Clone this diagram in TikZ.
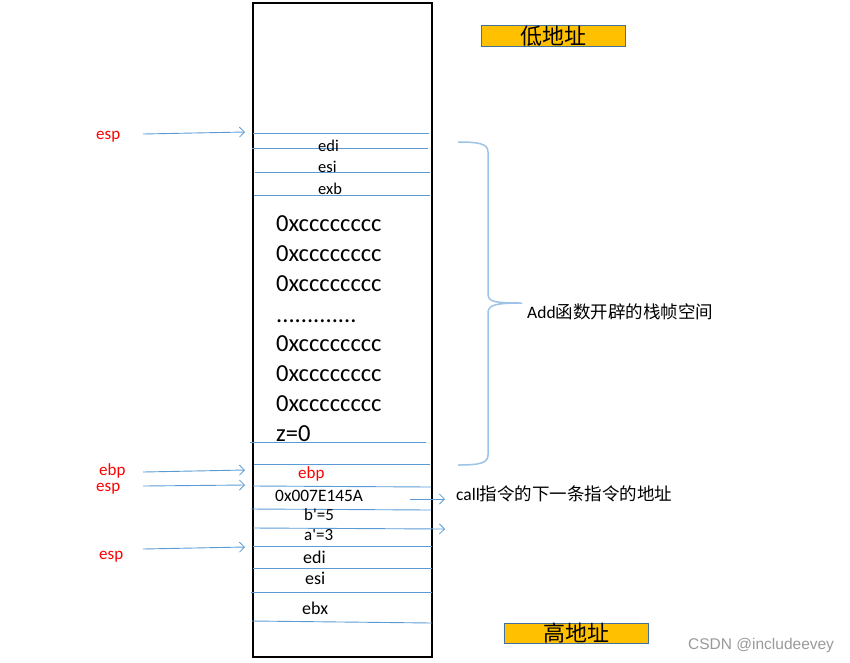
\documentclass[tikz,border=0pt]{standalone}
\usepackage{fontspec}
\setmainfont{Carlito}
\newfontfamily\plainfont{Carlito}
\newfontfamily\cjk{Noto Sans CJK SC}
\newfontfamily\wmfont{Liberation Sans}
\usetikzlibrary{arrows.meta}
\definecolor{lblue}{HTML}{5B9BD5}
\definecolor{bracecol}{HTML}{9DC3E6}
\definecolor{orng}{HTML}{FFC000}
\definecolor{bordblue}{HTML}{41719C}
\tikzset{
  sep/.style={draw=lblue, line width=0.9pt},
  ptr/.style={draw=lblue, line width=0.9pt, -{Straight Barb[length=5pt,width=10pt,line width=0.8pt]}},
  lbl/.style={anchor=base west, inner sep=0pt, font=\fontsize{16.5}{18}\selectfont},
  big/.style={anchor=base west, inner sep=0pt, font=\fontsize{24.5}{28}\selectfont},
  mid/.style={anchor=base west, inner sep=0pt, font=\fontsize{18}{20}\selectfont},
  reg/.style={anchor=base west, inner sep=0pt, text=red, font=\fontsize{17}{19}\selectfont},
  addr/.style={draw=bordblue, fill=orng, line width=0.8pt, minimum width=144pt, minimum height=20pt, inner sep=0pt, font=\cjk\fontsize{22}{24}\selectfont},
}
\begin{document}
\begin{tikzpicture}[x=1pt,y=-1pt]
\useasboundingbox (0,0) rectangle (850,662);
% stack box
\draw[line width=1.2pt] (253,3) rectangle (432,657);
% separators
\draw[sep] (253,133) -- (429,133);
\draw[sep] (252,148) -- (428,148);
\draw[sep] (255,172) -- (430,172);
\draw[sep] (254,195) -- (430,195);
\draw[sep] (250,442) -- (426,442);
\draw[sep] (254,464) -- (430,464);
\draw[sep] (253,486) -- (431,487);
\draw[sep] (251,509) -- (431,510);
\draw[sep] (253,546) -- (432,546);
\draw[sep] (253,568) -- (432,568);
\draw[sep] (251,592) -- (432,592);
\draw[sep] (252,621) -- (432,623);
% text in box
\node[lbl] (edi1) at (318,151) {edi};
\node[lbl] (esi1) at (318,172) {esi};
\node[lbl] (exb1) at (318,194) {exb};
\node[big] (c1) at (276,231) {0xcccccccc};
\node[big] (c2) at (276,261) {0xcccccccc};
\node[big] (c3) at (276,291) {0xcccccccc};
\node[big] (dots) at (276,322) {.............};
\node[big] (c4) at (276,351) {0xcccccccc};
\node[big] (c5) at (276,381) {0xcccccccc};
\node[big] (c6) at (276,411) {0xcccccccc};
\node[big] (z) at (276,441) {z=0};
\node[reg] (ebpin) at (298,478) {ebp};
\node[anchor=base west, inner sep=0pt, font=\fontsize{17.4}{19}\selectfont] (ret) at (275,501) {0x007E145A};
\node[anchor=base west, inner sep=0pt, font=\plainfont\fontsize{17}{19}\selectfont] (b) at (304,520) {b'=5};
\node[anchor=base west, inner sep=0pt, font=\plainfont\fontsize{17}{19}\selectfont] (a) at (304,540) {a'=3};
\node[mid] (edi2) at (303,563) {edi};
\node[mid] (esi2) at (305,584) {esi};
\node[mid] (ebx2) at (302,614) {ebx};
% a'=3 separator with arrow
\coordinate (aS) at (253,528);
\coordinate (aE) at (445,529);
\draw[ptr] (aS) -- (aE);
% return-address arrow
\coordinate (rS) at (410,499);
\node[anchor=base west, inner sep=0pt, font=\fontsize{17.5}{19}\selectfont] (call) at (456,500) {call{\cjk 指令的下一条指令的地址}};
\coordinate (rE) at (445,499);
\draw[ptr] (rS) -- (rE);
% left pointers
\node[reg] (esp1) at (96,139) {esp};
\node[reg] (ebp2) at (99,475) {ebp};
\node[reg] (esp2) at (96,491) {esp};
\node[reg] (esp3) at (99,559) {esp};
\coordinate (p1s) at (143,134); \coordinate (p1e) at (245,132);
\coordinate (p2s) at (143,472); \coordinate (p2e) at (245,470);
\coordinate (p3s) at (143,486); \coordinate (p3e) at (245,485);
\coordinate (p4s) at (143,549); \coordinate (p4e) at (245,547);
\draw[ptr] (p1s) -- (p1e);
\draw[ptr] (p2s) -- (p2e);
\draw[ptr] (p3s) -- (p3e);
\draw[ptr] (p4s) -- (p4e);
% brace
\draw[draw=bracecol, line width=1.5pt] (458,142) .. controls (480,142) and (488,144) .. (488,152) -- (488,294) .. controls (488,302) and (495,303) .. (522,303) .. controls (495,303) and (488,305) .. (488,313) -- (488,455) .. controls (488,463) and (480,465) .. (458,465);
\node[anchor=base west, inner sep=0pt, font=\fontsize{17.5}{19}\selectfont] (frame) at (527,318) {Add{\cjk 函数开辟的栈帧空间}};
% address boxes
\node[addr] (low) at (553,36) {低地址};
\node[addr] (high) at (576,633.5) {高地址};
% watermark
\node[anchor=base west, inner sep=0pt, text=black!40, font=\wmfont\fontsize{15.5}{17}\selectfont] (wm) at (688,649) {CSDN @includeevey};
\end{tikzpicture}
\end{document}
